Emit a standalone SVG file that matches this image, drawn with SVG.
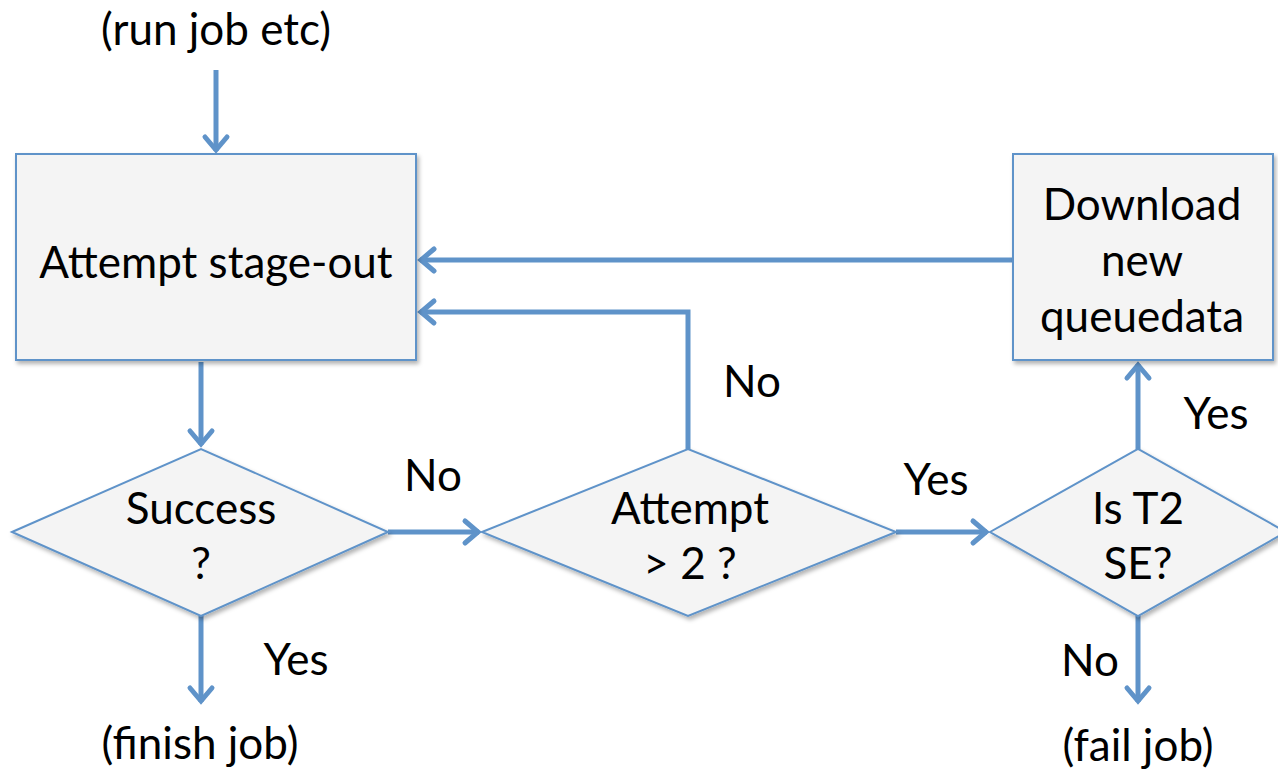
<svg xmlns="http://www.w3.org/2000/svg" width="1278" height="772" viewBox="0 0 1278 772">
<style>
.node{fill:#f4f4f4;stroke:#5f93c9;stroke-width:2;filter:url(#sh)}
.t{font-family:Lato,"Open Sans","Liberation Sans",sans-serif;font-size:44px;fill:#000;text-anchor:middle}
.c{fill:none;stroke:#5f93c9;stroke-width:5;marker-end:url(#ah)}
</style>
<defs>
<filter id="sh" x="-10%" y="-10%" width="130%" height="130%">
<feDropShadow dx="2" dy="3" stdDeviation="2" flood-color="#000" flood-opacity="0.3"/>
</filter>
<marker id="ah" markerUnits="userSpaceOnUse" markerWidth="40" markerHeight="40" viewBox="-30 -20 40 40" refX="0" refY="0" orient="auto">
<path d="M-14,-11 L-1,0 L-14,11" fill="none" stroke="#5f93c9" stroke-width="5" stroke-linecap="round" stroke-linejoin="miter"/>
</marker>
</defs>
<rect width="1278" height="772" fill="#fff"/>
<g id="connectors">
<path class="c" d="M216,70 L216,151"/>
<path class="c" d="M201,362 L201,445"/>
<path class="c" d="M388,532 L479,532"/>
<path class="c" d="M688,449 L688,312 L420,312"/>
<path class="c" d="M1013,260 L420,260"/>
<path class="c" d="M896,532 L987,532"/>
<path class="c" d="M1138,449 L1138,364"/>
<path class="c" d="M201,616 L201,702"/>
<path class="c" d="M1138,616 L1138,702"/>
</g>
<g id="start"><text class="t" x="216" y="45">(run job etc)</text></g>
<g id="attempt-stage-out">
<rect class="node" x="16" y="154" width="400" height="206"/>
<text class="t" x="216" y="278">Attempt stage-out</text>
</g>
<g id="download">
<rect class="node" x="1013" y="154" width="260" height="206"/>
<text class="t" x="1142" y="220">Download</text>
<text class="t" x="1142" y="276">new</text>
<text class="t" x="1142" y="332">queuedata</text>
</g>
<g id="success">
<polygon class="node" points="12,532 201,449 388,532 201,616"/>
<text class="t" x="201" y="524">Success</text>
<text class="t" x="201" y="579">?</text>
</g>
<g id="attempt-gt2">
<polygon class="node" points="482,532 688,449 896,532 688,616"/>
<text class="t" x="690" y="524">Attempt</text>
<text class="t" x="690" y="579">&gt; 2 ?</text>
</g>
<g id="is-t2-se">
<polygon class="node" points="990,532 1138,449 1286,532 1138,616"/>
<text class="t" x="1138" y="524">Is T2</text>
<text class="t" x="1138" y="579">SE?</text>
</g>
<g id="labels">
<text class="t" x="433" y="491">No</text>
<text class="t" x="752" y="397">No</text>
<text class="t" x="936" y="495">Yes</text>
<text class="t" x="1216" y="429">Yes</text>
<text class="t" x="296" y="675">Yes</text>
<text class="t" x="1090" y="676">No</text>
</g>
<g id="finish"><text class="t" x="200" y="759">(finish job)</text></g>
<g id="fail"><text class="t" x="1138" y="761">(fail job)</text></g>
</svg>
